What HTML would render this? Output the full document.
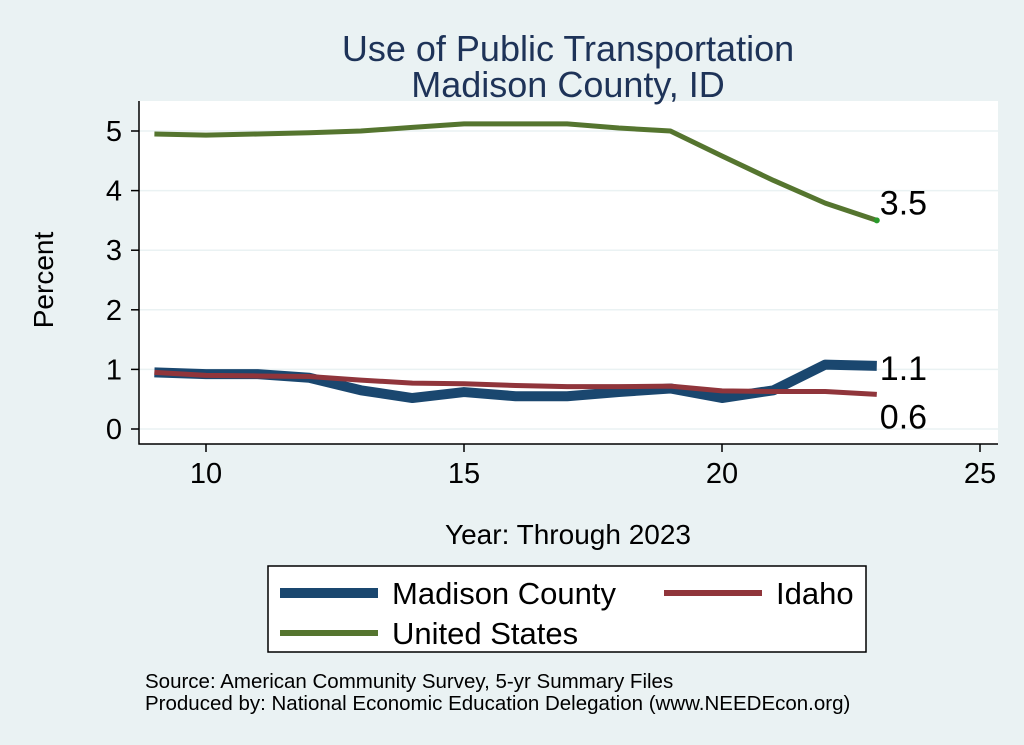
<!DOCTYPE html>
<html><head><meta charset="utf-8"><style>
body{margin:0;background:#eaf2f3;}
svg{display:block;font-family:"Liberation Sans",sans-serif;}
</style></head><body>
<svg id="c" width="1024" height="745">
<rect x="0" y="0" width="1024" height="745" fill="#eaf2f3"/>
<rect x="139" y="101" width="859" height="343" fill="#ffffff"/>
<text x="568" y="61" font-size="36" fill="#1e3358" text-anchor="middle">Use of Public Transportation</text>
<text x="568" y="97" font-size="36" fill="#1e3358" text-anchor="middle">Madison County, ID</text>
<g id="grid"></g><g id="axes"></g><g id="series"></g>
<text x="53" y="280" font-size="28" fill="#000" text-anchor="middle" transform="rotate(-90 53 280)">Percent</text>
<text x="568" y="544" font-size="28" fill="#000" text-anchor="middle">Year: Through 2023</text>
<g>
<rect x="268" y="566" width="598" height="86" fill="#fff" stroke="#000" stroke-width="1.5"/>
<line x1="280" y1="593" x2="378" y2="593" stroke="#1a476f" stroke-width="10"/>
<text x="392" y="604" font-size="31">Madison County</text>
<line x1="664" y1="593" x2="762" y2="593" stroke="#90353b" stroke-width="6"/>
<text x="776" y="604" font-size="31">Idaho</text>
<line x1="280" y1="633" x2="378" y2="633" stroke="#55752f" stroke-width="6"/>
<text x="392" y="644" font-size="31">United States</text>
</g>
<text x="145" y="688" font-size="20.5">Source: American Community Survey, 5-yr Summary Files</text>
<text x="145" y="710" font-size="20.5">Produced by: National Economic Education Delegation (www.NEEDEcon.org)</text>
</svg>
<script>
const years=[9,10,11,12,13,14,15,16,17,18,19,20,21,22,23];
const usValues=[4.95,4.93,4.95,4.97,5.0,5.06,5.12,5.12,5.12,5.05,5.0,4.58,4.17,3.79,3.5];
const madisonValues=[0.95,0.92,0.92,0.86,0.65,0.52,0.62,0.55,0.55,0.62,0.68,0.52,0.65,1.08,1.06];
const idahoValues=[0.95,0.9,0.89,0.88,0.82,0.77,0.76,0.73,0.71,0.71,0.72,0.64,0.63,0.63,0.58];
const xTicks=[10,15,20,25];
const yTicks=[0,1,2,3,4,5];
const endLabels=["3.5","1.1","0.6"];
const NS="http://www.w3.org/2000/svg";
const X=v=>206+(v-10)*51.6, Y=v=>429-v*59.6;
function mk(t,a,p){const e=document.createElementNS(NS,t);for(const k in a)e.setAttribute(k,a[k]);p.appendChild(e);return e;}
const grid=document.getElementById('grid'),axes=document.getElementById('axes'),ser=document.getElementById('series');
yTicks.forEach(v=>{
 const g=mk('line',{x1:139,x2:998,y1:Y(v),y2:Y(v),stroke:'#eaf2f3','stroke-width':1.5},grid);
 
 
 const t=mk('line',{x1:131,x2:139,y1:Y(v),y2:Y(v),stroke:'#000','stroke-width':1.5},axes);
 
 
 const l=mk('text',{x:122,y:Y(v)+10,'font-size':29,'text-anchor':'end'},axes);l.textContent=v;
 
 
});
xTicks.forEach(v=>{
 const t=mk('line',{x1:X(v),x2:X(v),y1:444,y2:452,stroke:'#000','stroke-width':1.5},axes);
 
 
 const l=mk('text',{x:X(v),y:483,'font-size':29,'text-anchor':'middle'},axes);l.textContent=v;
 
 
});
const ax=mk('path',{d:'M139 101 V444 H998',fill:'none',stroke:'#000','stroke-width':1.5},axes);


function line(vals,color,w,name){
 const p=mk('polyline',{points:years.map((y,i)=>X(y)+','+Y(vals[i])).join(' '),fill:'none',stroke:color,'stroke-width':w,'stroke-linejoin':'round'},ser);
 
 
}
line(madisonValues,'#1a476f',10,'line-madison-county');
line(idahoValues,'#90353b',5,'line-idaho');
line(usValues,'#55752f',5,'line-united-states');
const n=years.length-1;
const lastX=X(years[n]);
const d=mk('circle',{cx:lastX,cy:Y(usValues[n]),r:3,fill:'#2a9a2a'},ser);


[[usValues[n],-6,'us'],[madisonValues[n],14,'madison'],[idahoValues[n],34,'idaho']].forEach((a,i)=>{
 const t=mk('text',{x:lastX+3,y:Y(a[0])+a[1],'font-size':34},ser);t.textContent=endLabels[i];
 
 
});
</script>
</body></html>
